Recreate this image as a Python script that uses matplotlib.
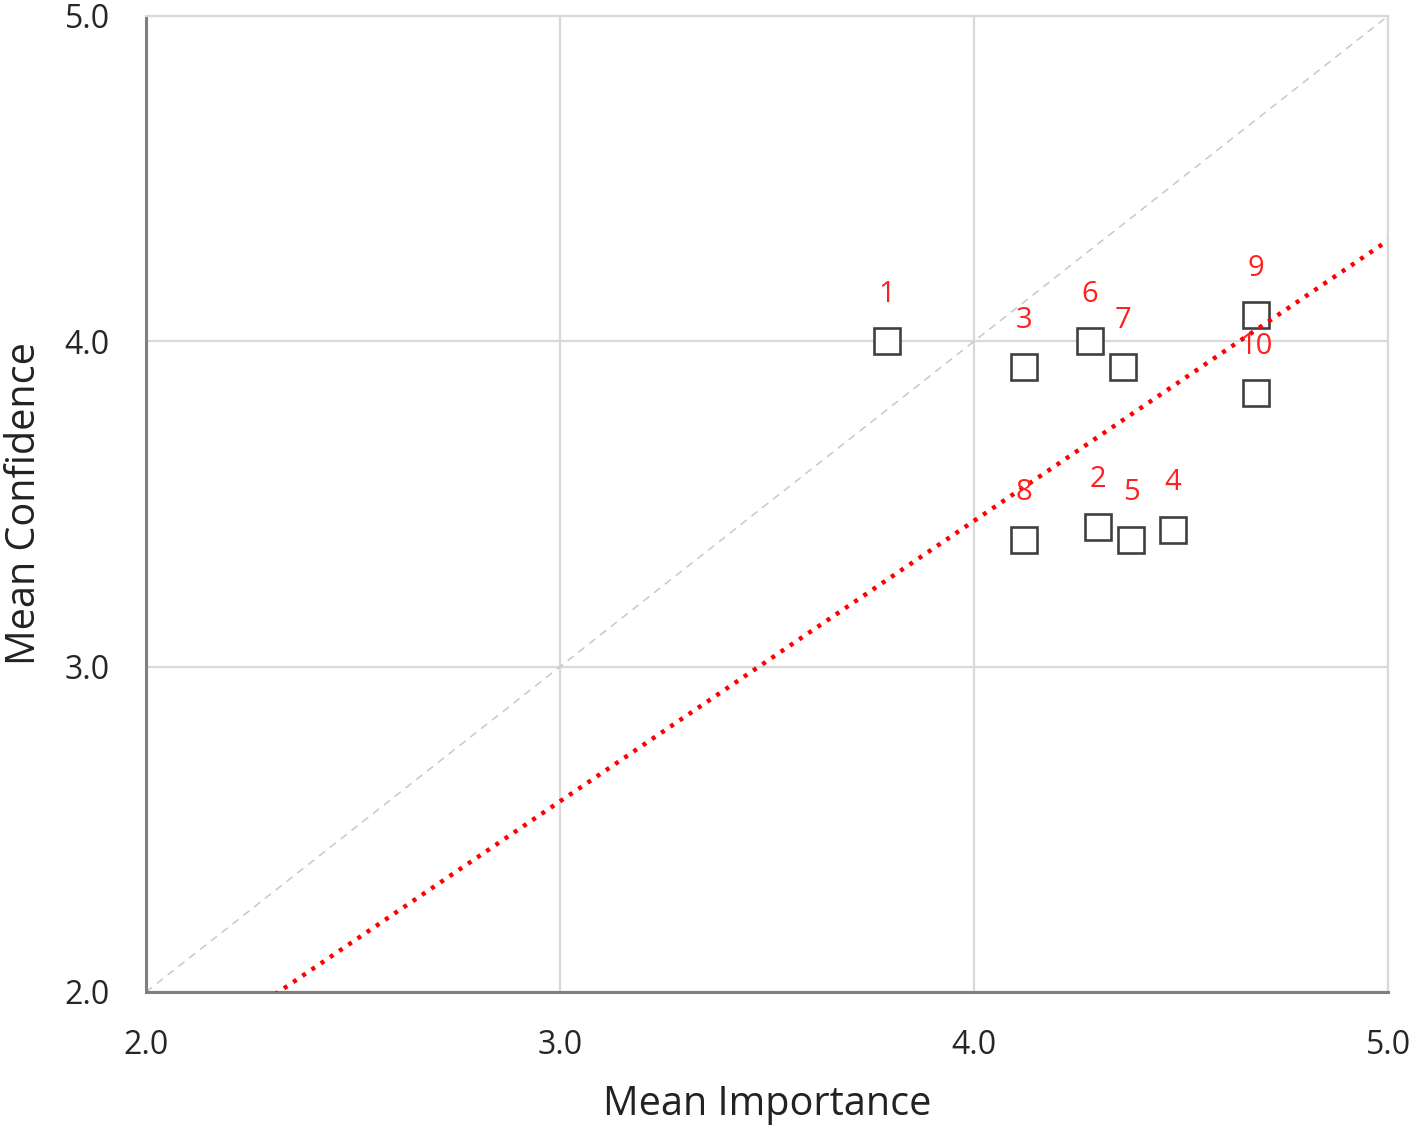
import numpy as np
import matplotlib.pyplot as plt

plt.rcParams['font.family'] = ['Open Sans', 'DejaVu Sans']

# item numbers and their mean scores
labels = ['1', '2', '3', '4', '5', '6', '7', '8', '9', '10']
importance = [3.79, 4.30, 4.12, 4.48, 4.38, 4.28, 4.36, 4.12, 4.68, 4.68]
confidence = [4.00, 3.43, 3.92, 3.42, 3.39, 4.00, 3.92, 3.39, 4.08, 3.84]

# red dotted trend line y = slope * x
trend_slope = 0.862

fig = plt.figure(figsize=(14.18, 11.33), dpi=100)
ax = fig.add_axes([146 / 1418, 1 - 992 / 1133, 1242 / 1418, 976 / 1133])

ax.set_xlim(2, 5)
ax.set_ylim(2, 5)

# y = x reference
xs = np.array([2.0, 5.0])
ax.plot(xs, xs, color='#c8c8c8', lw=1.1, linestyle=(0, (5, 4)), zorder=2)

# trend line
xt = np.linspace(2, 5, 50)
ax.plot(xt, trend_slope * xt, color='#ff0000', lw=3.2,
        linestyle=(0, (0.9, 1.6)), dash_capstyle='butt', zorder=4)

ax.plot(importance, confidence, linestyle='none', marker='s', markersize=19,
        markerfacecolor='white', markeredgecolor='#404040',
        markeredgewidth=1.9, zorder=3)

for lab, x, y in zip(labels, importance, confidence):
    ax.annotate(lab, (x, y), xytext=(0, 34), textcoords='offset points',
                ha='center', va='center', color='#ff2020', fontsize=21,
                zorder=5)

ticks = [2, 3, 4, 5]
ax.set_xticks(ticks)
ax.set_yticks(ticks)
ax.set_xticklabels(['2.0', '3.0', '4.0', '5.0'])
ax.set_yticklabels(['2.0', '3.0', '4.0', '5.0'])
ax.tick_params(length=0, labelsize=23, colors='#262626')
ax.tick_params(axis='x', pad=27)
ax.tick_params(axis='y', pad=26)

ax.grid(True, color='#d9d9d9', lw=1.6, zorder=0)
ax.set_axisbelow(True)

for side in ['left', 'bottom']:
    ax.spines[side].set_color('#7f7f7f')
    ax.spines[side].set_linewidth(2.2)
for side in ['top', 'right']:
    ax.spines[side].set_color('#d9d9d9')
    ax.spines[side].set_linewidth(1.6)

ax.set_xlabel('Mean Importance', fontsize=28.5, color='#222222', labelpad=16)
ax.set_ylabel('Mean Confidence', fontsize=28.5, color='#222222', labelpad=14)

fig.savefig('out.png', dpi=100)
